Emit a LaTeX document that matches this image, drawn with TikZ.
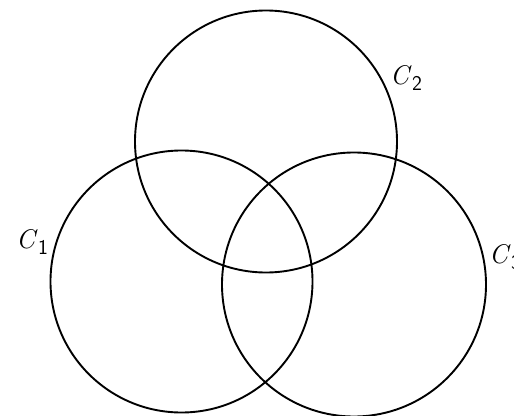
\documentclass[tikz,border=0pt]{standalone}
\usepackage{fontspec}
\newcommand{\circlab}[1]{\textit{C}\kern0.5pt\raisebox{-6pt}{\fontsize{21}{24}\selectfont\sffamily #1}}
\begin{document}
\begin{tikzpicture}[x=1pt,y=-1pt,
  ring/.style={circle, draw=black, line width=1.9pt, inner sep=0pt, minimum size=#1},
  lab/.style={inner sep=0pt, font=\fontsize{27}{30}\selectfont}]
\useasboundingbox (0,0) rectangle (514,415);
\fill[white] (0,0) rectangle (514,415);
\node[ring=262pt] (k2) at (266,141.5) {};
\node[ring=262pt] (k1) at (181.5,281.5) {};
\node[ring=264pt] (k3) at (354,284.5) {};
\node[lab] (l1) at (32,242) {\circlab{1}};
\node[lab] (l2) at (406,78) {\circlab{2}};
\node[lab] (l3) at (505,257) {\circlab{3}};
\end{tikzpicture}
\end{document}
